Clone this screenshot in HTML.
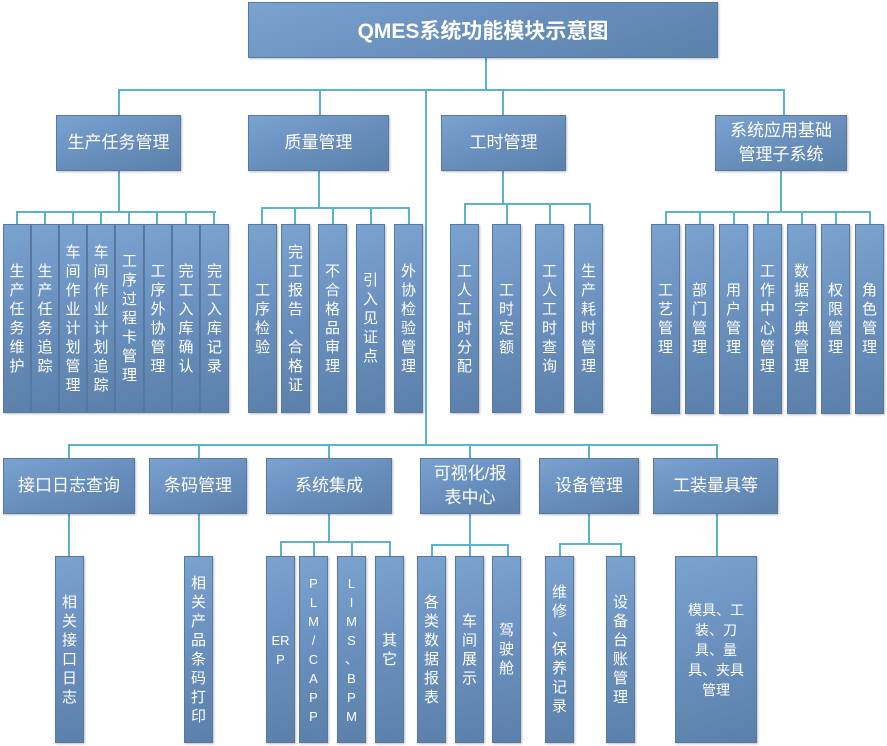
<!DOCTYPE html>
<html><head><meta charset="utf-8"><style>
body{margin:0;width:887px;height:746px;background:#fff;position:relative;overflow:hidden;font-family:"Liberation Sans","Noto Sans CJK SC",sans-serif}
.b{position:absolute;box-sizing:border-box;border:1px solid #5878a0;background:linear-gradient(160deg,#7ba3d0 0%,#6a91bf 45%,#5b80aa 100%);color:#fff;display:flex;align-items:center;justify-content:center;text-align:center;box-shadow:1px 1px 2px rgba(0,0,0,.25)}
.l1{font-size:17px;line-height:24px}
.c{font-size:15px;line-height:19px}
.c span{display:block;width:20px}
.h,.v{position:absolute;background:#5bb3cc}
.h{height:2px}.v{width:2px}
</style></head><body>
<div class="v" style="left:485px;top:58px;height:32px"></div>
<div class="h" style="left:118px;top:89px;width:667px"></div>
<div class="v" style="left:425px;top:89px;height:357px"></div>
<div class="v" style="left:118px;top:89px;height:26px"></div>
<div class="v" style="left:319px;top:89px;height:26px"></div>
<div class="v" style="left:502px;top:89px;height:26px"></div>
<div class="v" style="left:783px;top:89px;height:26px"></div>

<div class="v" style="left:118px;top:171px;height:41px"></div>
<div class="h" style="left:16px;top:211px;width:200px"></div>
<div class="v" style="left:16px;top:211px;height:13px"></div><div class="v" style="left:44px;top:211px;height:13px"></div><div class="v" style="left:72px;top:211px;height:13px"></div><div class="v" style="left:100px;top:211px;height:13px"></div><div class="v" style="left:128px;top:211px;height:13px"></div><div class="v" style="left:156px;top:211px;height:13px"></div><div class="v" style="left:185px;top:211px;height:13px"></div><div class="v" style="left:213px;top:211px;height:13px"></div>

<div class="v" style="left:318px;top:171px;height:37px"></div>
<div class="h" style="left:261px;top:207px;width:149px"></div>
<div class="v" style="left:261px;top:207px;height:17px"></div><div class="v" style="left:294px;top:207px;height:17px"></div><div class="v" style="left:332px;top:207px;height:17px"></div><div class="v" style="left:370px;top:207px;height:17px"></div><div class="v" style="left:408px;top:207px;height:17px"></div>

<div class="v" style="left:502px;top:171px;height:33px"></div>
<div class="h" style="left:464px;top:203px;width:127px"></div>
<div class="v" style="left:464px;top:203px;height:21px"></div><div class="v" style="left:506px;top:203px;height:21px"></div><div class="v" style="left:549px;top:203px;height:21px"></div><div class="v" style="left:589px;top:203px;height:21px"></div>

<div class="v" style="left:780px;top:171px;height:41px"></div>
<div class="h" style="left:665px;top:211px;width:206px"></div>
<div class="v" style="left:665px;top:211px;height:13px"></div><div class="v" style="left:699px;top:211px;height:13px"></div><div class="v" style="left:733px;top:211px;height:13px"></div><div class="v" style="left:767px;top:211px;height:13px"></div><div class="v" style="left:801px;top:211px;height:13px"></div><div class="v" style="left:835px;top:211px;height:13px"></div><div class="v" style="left:869px;top:211px;height:13px"></div>

<div class="h" style="left:68px;top:444px;width:650px"></div>
<div class="v" style="left:68px;top:444px;height:14px"></div><div class="v" style="left:198px;top:444px;height:14px"></div><div class="v" style="left:328px;top:444px;height:14px"></div><div class="v" style="left:469px;top:444px;height:14px"></div><div class="v" style="left:588px;top:444px;height:14px"></div><div class="v" style="left:716px;top:444px;height:14px"></div>

<div class="v" style="left:68px;top:514px;height:42px"></div>
<div class="v" style="left:198px;top:514px;height:42px"></div>
<div class="v" style="left:328px;top:514px;height:28px"></div>
<div class="h" style="left:280px;top:541px;width:111px"></div>
<div class="v" style="left:280px;top:541px;height:15px"></div><div class="v" style="left:313px;top:541px;height:15px"></div><div class="v" style="left:351px;top:541px;height:15px"></div><div class="v" style="left:389px;top:541px;height:15px"></div>
<div class="v" style="left:469px;top:514px;height:31px"></div>
<div class="h" style="left:431px;top:544px;width:78px"></div>
<div class="v" style="left:431px;top:544px;height:12px"></div><div class="v" style="left:469px;top:544px;height:12px"></div><div class="v" style="left:507px;top:544px;height:12px"></div>
<div class="v" style="left:588px;top:514px;height:30px"></div>
<div class="h" style="left:559px;top:543px;width:63px"></div>
<div class="v" style="left:559px;top:543px;height:13px"></div><div class="v" style="left:620px;top:543px;height:13px"></div>
<div class="v" style="left:716px;top:514px;height:42px"></div>

<div class="b" style="left:248px;top:2px;width:470px;height:56px;font-size:21px;font-weight:bold">QMES系统功能模块示意图</div>
<div class="b l1" style="left:56px;top:115px;width:125px;height:56px">生产任务管理</div>
<div class="b l1" style="left:248px;top:115px;width:141px;height:56px">质量管理</div>
<div class="b l1" style="left:441px;top:115px;width:125px;height:56px">工时管理</div>
<div class="b l1" style="left:715px;top:115px;width:132px;height:56px">系统应用基础<br>管理子系统</div>

<div class="b c" style="left:3px;top:224px;width:28px;height:189px"><span>生<br>产<br>任<br>务<br>维<br>护</span></div>
<div class="b c" style="left:31px;top:224px;width:28px;height:189px"><span>生<br>产<br>任<br>务<br>追<br>踪</span></div>
<div class="b c" style="left:59px;top:224px;width:28px;height:189px"><span>车<br>间<br>作<br>业<br>计<br>划<br>管<br>理</span></div>
<div class="b c" style="left:87px;top:224px;width:28px;height:189px"><span>车<br>间<br>作<br>业<br>计<br>划<br>追<br>踪</span></div>
<div class="b c" style="left:115px;top:224px;width:29px;height:189px"><span>工<br>序<br>过<br>程<br>卡<br>管<br>理</span></div>
<div class="b c" style="left:144px;top:224px;width:28px;height:189px"><span>工<br>序<br>外<br>协<br>管<br>理</span></div>
<div class="b c" style="left:172px;top:224px;width:28px;height:189px"><span>完<br>工<br>入<br>库<br>确<br>认</span></div>
<div class="b c" style="left:200px;top:224px;width:29px;height:189px"><span>完<br>工<br>入<br>库<br>记<br>录</span></div>

<div class="b c" style="left:248px;top:224px;width:29px;height:189px"><span>工<br>序<br>检<br>验</span></div>
<div class="b c" style="left:281px;top:224px;width:29px;height:189px"><span>完<br>工<br>报<br>告<br>、<br>合<br>格<br>证</span></div>
<div class="b c" style="left:318px;top:224px;width:29px;height:189px"><span>不<br>合<br>格<br>品<br>审<br>理</span></div>
<div class="b c" style="left:356px;top:224px;width:29px;height:189px"><span>引<br>入<br>见<br>证<br>点</span></div>
<div class="b c" style="left:394px;top:224px;width:29px;height:189px"><span>外<br>协<br>检<br>验<br>管<br>理</span></div>

<div class="b c" style="left:450px;top:224px;width:29px;height:189px"><span>工<br>人<br>工<br>时<br>分<br>配</span></div>
<div class="b c" style="left:492px;top:224px;width:29px;height:189px"><span>工<br>时<br>定<br>额</span></div>
<div class="b c" style="left:535px;top:224px;width:29px;height:189px"><span>工<br>人<br>工<br>时<br>查<br>询</span></div>
<div class="b c" style="left:574px;top:224px;width:29px;height:189px"><span>生<br>产<br>耗<br>时<br>管<br>理</span></div>

<div class="b c" style="left:651px;top:224px;width:29px;height:190px"><span>工<br>艺<br>管<br>理</span></div>
<div class="b c" style="left:685px;top:224px;width:29px;height:190px"><span>部<br>门<br>管<br>理</span></div>
<div class="b c" style="left:719px;top:224px;width:29px;height:190px"><span>用<br>户<br>管<br>理</span></div>
<div class="b c" style="left:753px;top:224px;width:29px;height:190px"><span>工<br>作<br>中<br>心<br>管<br>理</span></div>
<div class="b c" style="left:787px;top:224px;width:29px;height:190px"><span>数<br>据<br>字<br>典<br>管<br>理</span></div>
<div class="b c" style="left:821px;top:224px;width:29px;height:190px"><span>权<br>限<br>管<br>理</span></div>
<div class="b c" style="left:855px;top:224px;width:29px;height:190px"><span>角<br>色<br>管<br>理</span></div>

<div class="b l1" style="left:3px;top:458px;width:132px;height:56px">接口日志查询</div>
<div class="b l1" style="left:149px;top:458px;width:98px;height:56px">条码管理</div>
<div class="b l1" style="left:266px;top:458px;width:126px;height:56px">系统集成</div>
<div class="b l1" style="left:420px;top:458px;width:100px;height:56px">可视化/报<br>表中心</div>
<div class="b l1" style="left:539px;top:458px;width:100px;height:56px">设备管理</div>
<div class="b l1" style="left:653px;top:458px;width:125px;height:56px">工装量具等</div>

<div class="b c" style="left:55px;top:556px;width:29px;height:187px"><span>相<br>关<br>接<br>口<br>日<br>志</span></div>
<div class="b c" style="left:184px;top:556px;width:29px;height:187px"><span>相<br>关<br>产<br>品<br>条<br>码<br>打<br>印</span></div>
<div class="b c" style="left:266px;top:556px;width:29px;height:187px"><span style="width:24px;font-size:13px">ER<br>P</span></div>
<div class="b c" style="left:299px;top:556px;width:29px;height:187px"><span style="font-size:13px">P<br>L<br>M<br>/<br>C<br>A<br>P<br>P</span></div>
<div class="b c" style="left:337px;top:556px;width:29px;height:187px"><span style="font-size:13px">L<br>I<br>M<br>S<br>、<br>B<br>P<br>M</span></div>
<div class="b c" style="left:375px;top:556px;width:29px;height:187px"><span>其<br>它</span></div>
<div class="b c" style="left:417px;top:556px;width:29px;height:187px"><span>各<br>类<br>数<br>据<br>报<br>表</span></div>
<div class="b c" style="left:455px;top:556px;width:29px;height:187px"><span>车<br>间<br>展<br>示</span></div>
<div class="b c" style="left:492px;top:556px;width:29px;height:187px"><span>驾<br>驶<br>舱</span></div>
<div class="b c" style="left:545px;top:556px;width:29px;height:187px"><span>维<br>修<br>、<br>保<br>养<br>记<br>录</span></div>
<div class="b c" style="left:606px;top:556px;width:29px;height:187px"><span>设<br>备<br>台<br>账<br>管<br>理</span></div>
<div class="b" style="left:675px;top:556px;width:82px;height:187px;font-size:14px;line-height:20px">模具、工<br>装、刀<br>具、量<br>具、夹具<br>管理</div>
</body></html>
